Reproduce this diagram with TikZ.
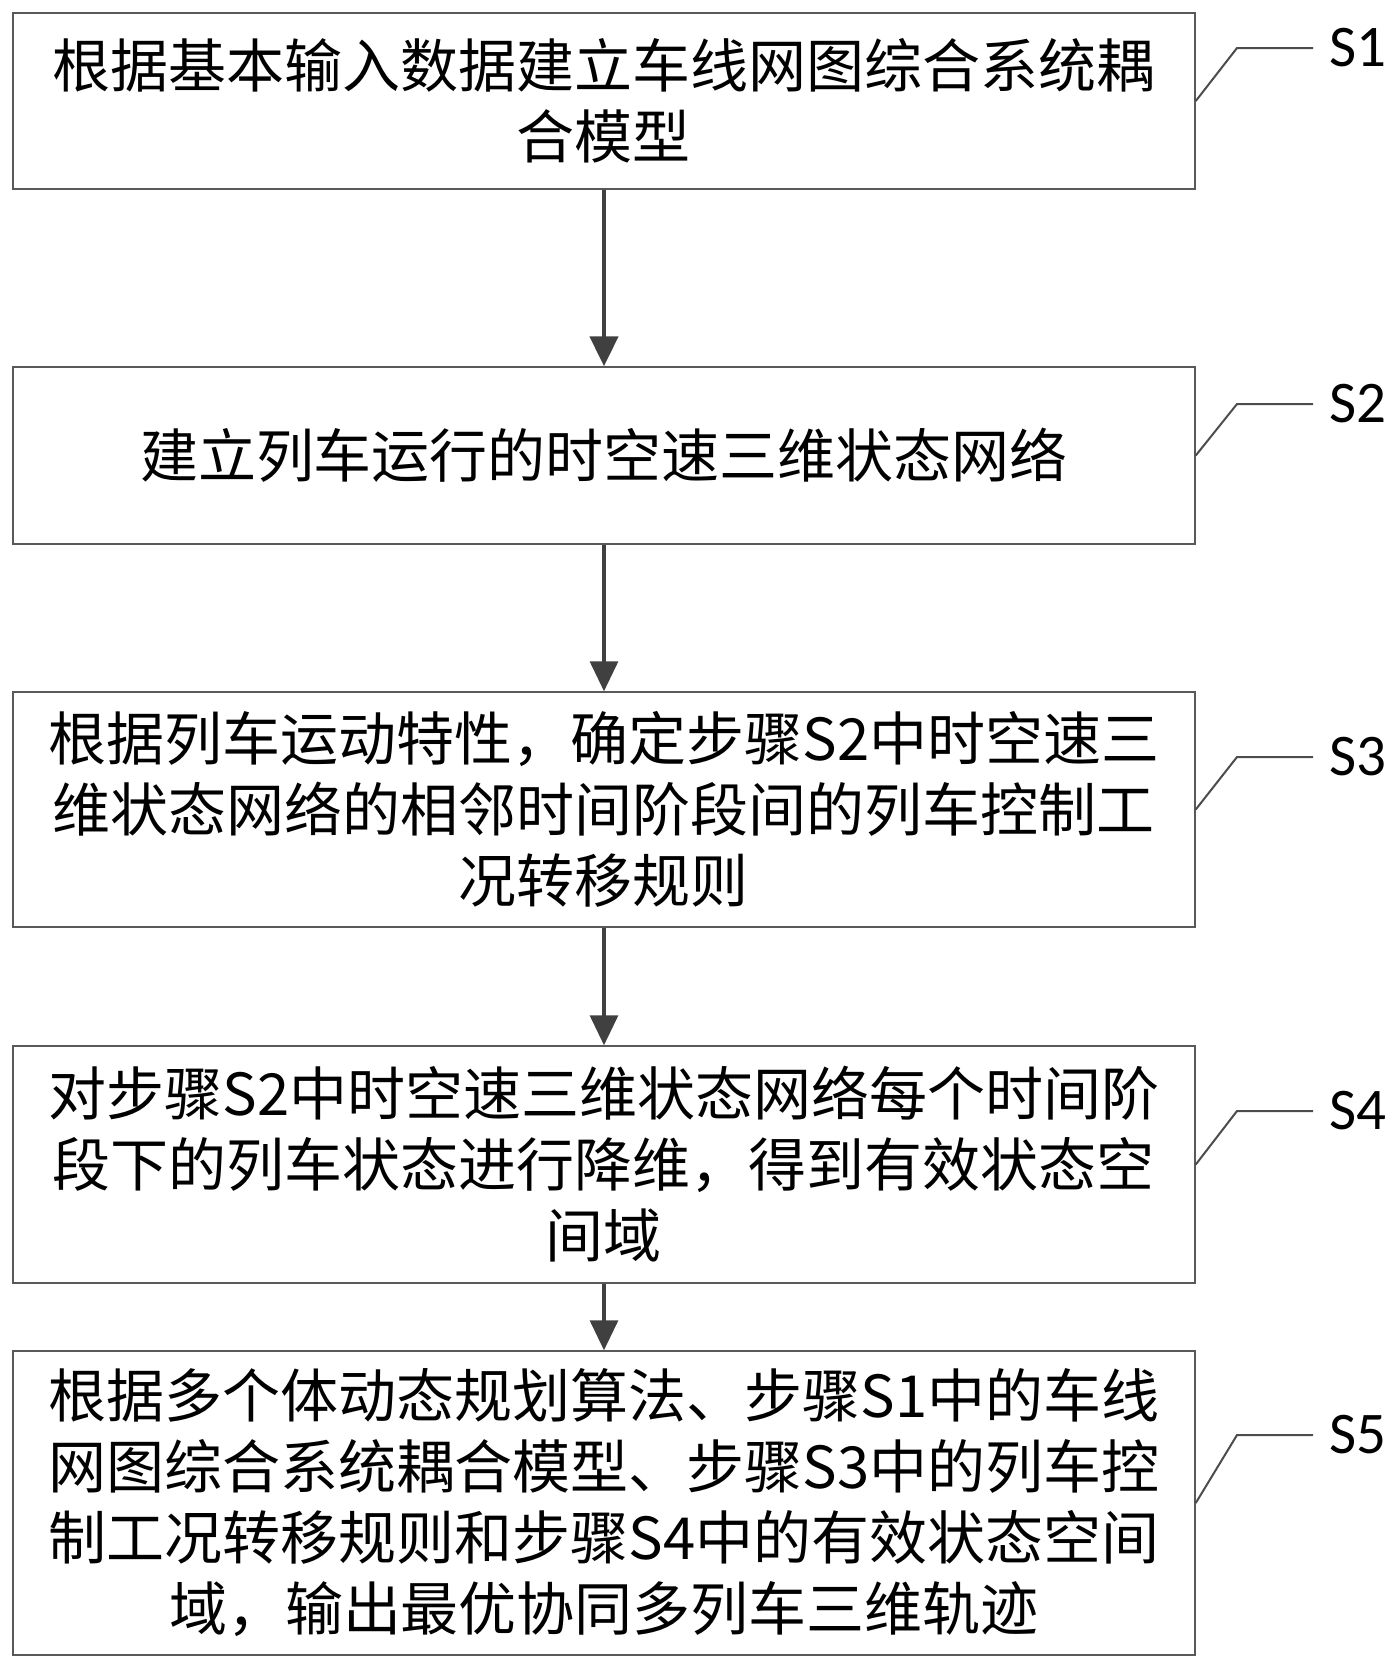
\documentclass[tikz,border=0pt]{standalone}
\usepackage{fontspec}
\setmainfont{Carlito}
\newfontfamily\cjk{Noto Sans CJK SC}
\usepackage{tikz}
\usetikzlibrary{calc, shapes, arrows.meta}

\begin{document}
\begin{tikzpicture}[x=0.5pt,y=-0.5pt]
\tikzstyle{proc}=[draw=black!65,line width=0.75pt,minimum width=591pt,inner sep=0pt,align=center,font=\cjk\fontsize{29pt}{35.5pt}\selectfont]
\tikzstyle{flow}=[draw=black!75,line width=1.65pt,-{Triangle[length=15pt,width=14pt]}]
\tikzstyle{lead}=[draw=black!70,line width=1pt]
\tikzstyle{tag}=[anchor=west,inner sep=8pt,font=\fontsize{29.5pt}{30pt}\selectfont]
\useasboundingbox (0,0) rectangle (1399,1667);
% step boxes
\node[proc,minimum height=88pt] (B1) at (604,101) {根据基本输入数据建立车线网图综合系统耦\\合模型};
\node[proc,minimum height=88.5pt] (B2) at (604,455.5) {建立列车运行的时空速三维状态网络};
\node[proc,minimum height=117.5pt] (B3) at (604,809.5) {根据列车运动特性，确定步骤S2中时空速三\\维状态网络的相邻时间阶段间的列车控制工\\况转移规则};
\node[proc,minimum height=118.5pt] (B4) at (604,1164.5) {对步骤S2中时空速三维状态网络每个时间阶\\段下的列车状态进行降维，得到有效状态空\\间域};
\node[proc,minimum height=152pt] (B5) at (604,1503) {根据多个体动态规划算法、步骤S1中的车线\\网图综合系统耦合模型、步骤S3中的列车控\\制工况转移规则和步骤S4中的有效状态空间\\域，输出最优协同多列车三维轨迹};
% flow arrows
\draw[flow,line width=2.35pt] (B1) -- (B2);
\draw[flow] (B2) -- (B3);
\draw[flow] (B3) -- (B4);
\draw[flow] (B4) -- (B5);
% step tags
\coordinate (K1) at (1237,48);
\coordinate (K2) at (1237,404);
\coordinate (K3) at (1237,757);
\coordinate (K4) at (1237,1111);
\coordinate (K5) at (1237,1435);
\node[tag] (L1) at (1313,48) {S1};
\node[tag] (L2) at (1313,404) {S2};
\node[tag] (L3) at (1313,757) {S3};
\node[tag] (L4) at (1313,1111) {S4};
\node[tag] (L5) at (1313,1435) {S5};
\draw[lead] (B1.east) -- (K1) -- (L1.west);
\draw[lead] (B2.east) -- (K2) -- (L2.west);
\draw[lead] (B3.east) -- (K3) -- (L3.west);
\draw[lead] (B4.east) -- (K4) -- (L4.west);
\draw[lead] (B5.east) -- (K5) -- (L5.west);
\end{tikzpicture}
\end{document}
